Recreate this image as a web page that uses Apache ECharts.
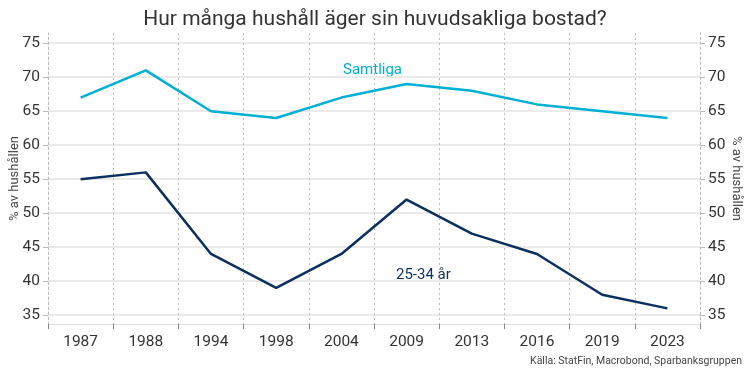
<!DOCTYPE html>
<html>
<head>
<meta charset="utf-8">
<script src="https://cdn.jsdelivr.net/npm/echarts@6/dist/echarts.min.js"></script>
<style>
  html, body { margin: 0; padding: 0; background: #fff; }
  #chart { width: 750px; height: 376px; }
</style>
</head>
<body>
<div id="chart"></div>
<script>
// år
const years = ['1987', '1988', '1994', '1998', '2004', '2009', '2013', '2016', '2019', '2023'];
// Samtliga hushåll
const samtliga = [67, 71, 65, 64, 67, 69, 68, 66, 65, 64];
// 25-34 år
const unga = [55, 56, 44, 39, 44, 52, 47, 44, 38, 36];
// y-axelns etiketter
const yTicks = [35, 40, 45, 50, 55, 60, 65, 70, 75];

const font = 'Roboto';
const myChart = echarts.init(document.getElementById('chart'));

const yAxisBase = {
  type: 'value',
  min: 33.7,
  max: 76.5,
  name: '% av hushållen',
  nameLocation: 'middle',
  nameMoveOverlap: false,
  nameTextStyle: { color: '#444', fontSize: 13, fontFamily: font },
  axisLine: { show: true, lineStyle: { color: '#bbb', type: [2, 3], width: 1 } },
  axisTick: { show: true, customValues: yTicks, length: 5, lineStyle: { color: '#bbb' } },
  axisLabel: { customValues: yTicks, color: '#333', fontSize: 15.5, fontFamily: font, margin: 8 },
  splitLine: { show: true, lineStyle: { color: '#e3e3e3', width: 1.5 } },
};

const option = {
  animation: false,
  title: {
    text: 'Hur många hushåll äger sin huvudsakliga bostad?',
    left: 'center',
    top: 4,
    textStyle: { fontSize: 21, fontWeight: 'normal', color: '#333', fontFamily: font },
  },
  grid: { left: 48, right: 50, top: 33, bottom: 52, containLabel: false, outerBoundsMode: 'none' },
  xAxis: {
    type: 'category',
    data: years,
    boundaryGap: true,
    axisLine: { show: true, lineStyle: { color: '#ddd' } },
    axisTick: { show: true, length: 5, lineStyle: { color: '#888' } },
    axisLabel: { color: '#333', fontSize: 15.5, fontFamily: font, margin: 10 },
    splitLine: { show: true, lineStyle: { color: '#bbb', type: [2, 3], width: 1 } },
  },
  yAxis: [
    Object.assign({}, yAxisBase, { position: 'left', nameGap: 27, nameRotate: 90 }),
    Object.assign({}, yAxisBase, { position: 'right', nameGap: 30, nameRotate: -90,
      splitLine: { show: false } }),
  ],
  graphic: [
    { type: 'text', left: 343, top: 63,
      style: { text: 'Samtliga', fill: '#00b0d2', fontSize: 15, fontFamily: font } },
    { type: 'text', left: 396, top: 268,
      style: { text: '25-34 år', fill: '#0b2f5e', fontSize: 15, fontFamily: font } },
    { type: 'text', right: 8, top: 356,
      style: { text: 'Källa: StatFin, Macrobond, Sparbanksgruppen', fill: '#444', fontSize: 10.5, fontFamily: font } },
  ],
  series: [
    {
      name: 'Samtliga',
      type: 'line',
      data: samtliga,
      symbol: 'none',
      lineStyle: { color: '#00b0d2', width: 2.5 },
    },
    {
      name: '25-34 år',
      type: 'line',
      data: unga,
      symbol: 'none',
      lineStyle: { color: '#0b2f5e', width: 2.5 },
    },
  ],
};

myChart.setOption(option);
window.addEventListener('resize', () => { myChart.resize(); });
</script>
</body>
</html>
